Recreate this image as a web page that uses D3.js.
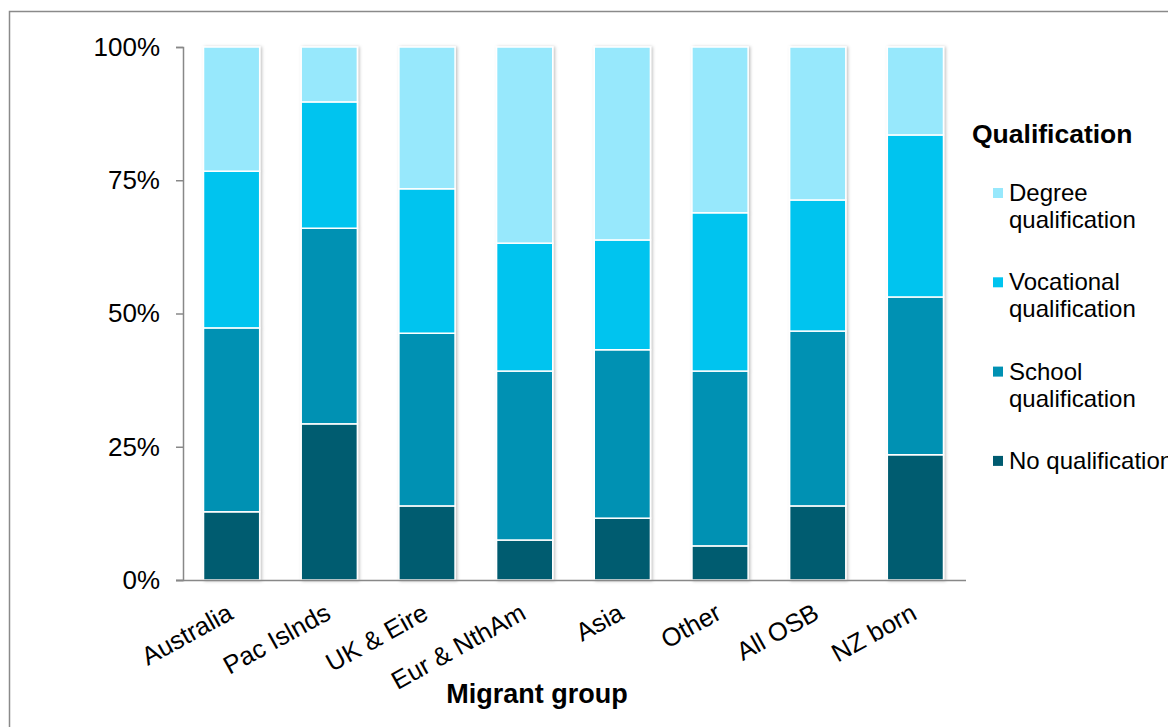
<!DOCTYPE html>
<html>
<head>
<meta charset="utf-8">
<script src="https://cdn.jsdelivr.net/npm/d3@7"></script>
<style>
  body { margin: 0; background: #fff; }
  svg { display: block; font-family: "Liberation Sans", Arial, sans-serif; }
</style>
</head>
<body>
<svg id="chart" width="1168" height="727"></svg>
<script>
const groups = ["Australia", "Pac Islnds", "UK & Eire", "Eur & NthAm", "Asia", "Other", "All OSB", "NZ born"];
const qualKeys = ["No qualification", "School qualification", "Vocational qualification", "Degree qualification"];
const qualColors = ["#005b70", "#0091b3", "#00c4ef", "#97e8fc"];

// shares in percent, bottom to top
const noQual     = [12.8, 29.3, 13.9,  7.5, 11.6,  6.4, 13.9, 23.5];
const schoolQual = [34.5, 36.7, 32.4, 31.7, 31.6, 32.8, 32.8, 29.6];
const vocQual    = [29.4, 23.7, 27.1, 24.0, 20.6, 29.7, 24.6, 30.4];
const degreeQual = [23.3, 10.3, 26.6, 36.8, 36.2, 31.1, 28.7, 16.5];

const yTicks = [0, 0.25, 0.5, 0.75, 1];

const rows = groups.map((g, i) => ({
    group: g,
    "No qualification": noQual[i],
    "School qualification": schoolQual[i],
    "Vocational qualification": vocQual[i],
    "Degree qualification": degreeQual[i]
}));

const svg = d3.select("#chart");

//outer frame
svg.append("rect")
    .attr("x", 9.5).attr("y", 11.5)
    .attr("width", 1300).attr("height", 900)
    .attr("fill", "none")
    .attr("stroke", "#8a8a8a")
    .attr("stroke-width", 1.5);

const defs = svg.append("defs");
defs.append("filter").attr("id", "shadow")
    .attr("x", "-20%").attr("y", "-5%").attr("width", "140%").attr("height", "110%")
  .append("feDropShadow")
    .attr("dx", 1.5).attr("dy", 0.5)
    .attr("stdDeviation", 1.5)
    .attr("flood-color", "#000")
    .attr("flood-opacity", 0.25);

const x = d3.scaleBand().domain(groups).range([183, 964]).paddingInner(0.425).paddingOuter(0.21);
const y = d3.scaleLinear().domain([0, 1]).range([580, 47]);
const color = d3.scaleOrdinal().domain(qualKeys).range(qualColors);

const stacked = d3.stack().keys(qualKeys).offset(d3.stackOffsetExpand)(rows);

//bars
const barG = svg.append("g").attr("filter", "url(#shadow)");
barG.selectAll("g.series")
    .data(stacked).enter()
  .append("g")
    .attr("class", "series")
    .attr("fill", d => color(d.key))
  .selectAll("rect")
    .data(d => d).enter()
  .append("rect")
    .attr("x", d => x(d.data.group))
    .attr("width", x.bandwidth())
    .attr("y", d => y(d[1]))
    .attr("height", d => y(d[0]) - y(d[1]))
    .attr("stroke", "#fff")
    .attr("stroke-width", 1.5);

//y axis
const yAxis = svg.append("g")
    .attr("transform", "translate(183,0)")
    .call(d3.axisLeft(y).tickValues(yTicks).tickFormat(d3.format(".0%")).tickSize(7).tickPadding(16));
yAxis.select(".domain").attr("stroke", "#888").attr("stroke-width", 1.5);
yAxis.selectAll(".tick line").attr("stroke", "#888").attr("stroke-width", 1.5);
yAxis.selectAll(".tick text")
    .attr("font-size", 26)
    .attr("font-family", "Liberation Sans, Arial, sans-serif")
    .attr("fill", "#000");

//x axis line
svg.append("line")
    .attr("x1", 176).attr("x2", 966)
    .attr("y1", 580.5).attr("y2", 580.5)
    .attr("stroke", "#888").attr("stroke-width", 1.5);

//x labels
svg.append("g").selectAll("text")
    .data(groups).enter()
  .append("text")
    .attr("transform", d => `translate(${x(d) + x.bandwidth() / 2 + 3},618) rotate(-29)`)
    .attr("text-anchor", "end")
    .attr("font-size", 25.5)
    .attr("fill", "#000")
    .text(d => d);

svg.append("text")
    .attr("x", 537).attr("y", 703)
    .attr("text-anchor", "middle")
    .attr("font-size", 27)
    .attr("font-weight", "bold")
    .text("Migrant group");

//legend
const legend = svg.append("g");
legend.append("text")
    .attr("x", 972).attr("y", 143)
    .attr("font-size", 26.5)
    .attr("font-weight", "bold")
    .text("Qualification");

const legendItems = qualKeys.slice().reverse();
const item = legend.selectAll("g.item")
    .data(legendItems).enter()
  .append("g")
    .attr("class", "item")
    .attr("transform", (d, i) => `translate(0,${201 + i * 89.3})`);

item.append("rect")
    .attr("x", 993).attr("y", -13)
    .attr("width", 10).attr("height", 10)
    .attr("fill", d => color(d));

item.append("text")
    .attr("x", 1009)
    .attr("font-size", 24)
    .attr("fill", "#000")
    .selectAll("tspan")
    .data(d => d === "No qualification" ? [d] : d.split(" "))
    .enter()
  .append("tspan")
    .attr("x", 1009)
    .attr("dy", (d, i) => i === 0 ? 0 : 27)
    .text(d => d);
</script>
</body>
</html>
